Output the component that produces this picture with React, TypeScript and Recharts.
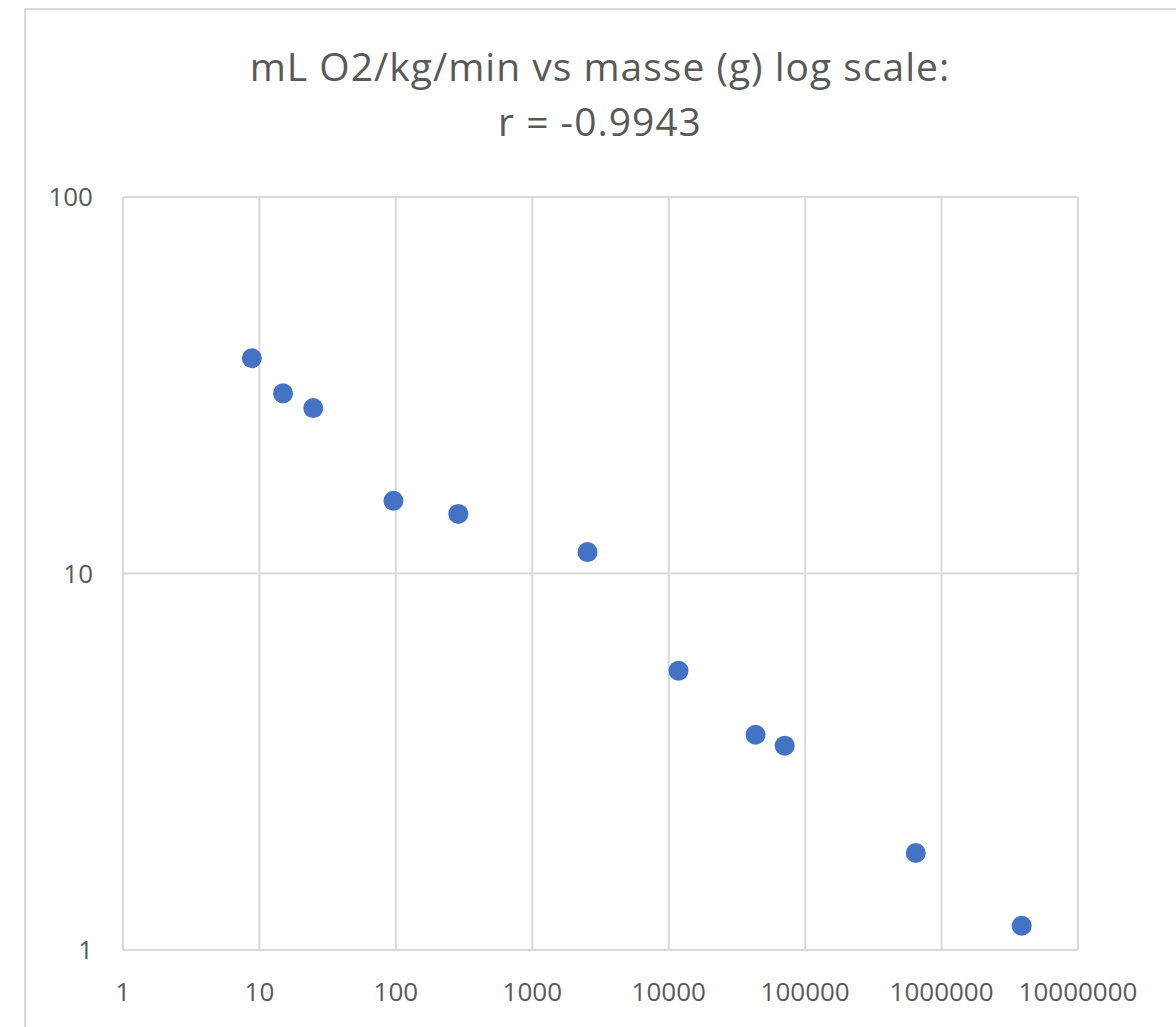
import React from 'react';
import { ScatterChart, Scatter, XAxis, YAxis, CartesianGrid } from 'recharts';

// masse (g) vs mL O2/kg/min
const masse = [8.8, 14.9, 24.8, 96, 287, 2540, 11800, 43300, 70800, 647000, 3870000];
const vo2 = [37.3, 30.1, 27.5, 15.6, 14.4, 11.4, 5.52, 3.73, 3.49, 1.81, 1.16];
const xTicks = [1, 10, 100, 1000, 10000, 100000, 1000000, 10000000];
const yTicks = [1, 10, 100];

const points = masse.map((m, i) => ({ masse: m, vo2: vo2[i] }));

const font = '"Open Sans", sans-serif';
const grey = '#595959';
const gridColor = '#d9d9d9';

const Dot = (props: any) => <circle cx={props.cx} cy={props.cy} r={10} fill="#4472C4" />;

export default function App() {
  return (
    <div style={{ position: 'absolute', left: 0, top: 0, width: 1176, height: 1027, overflow: 'hidden', background: '#fff' }}>
      <div style={{ position: 'absolute', left: 24, top: 8, width: 1200, height: 1100, border: `2px solid ${gridColor}`, boxSizing: 'border-box' }} />
      <div style={{ position: 'absolute', left: 24, width: 1152, top: 38, textAlign: 'center', fontFamily: font, fontSize: 39, letterSpacing: 1, color: grey, lineHeight: '55px' }}>
        <div>mL O2/kg/min vs masse (g) log scale:</div>
        <div>r = -0.9943</div>
      </div>
      <div style={{ position: 'absolute', left: 0, top: 0 }}>
        <ScatterChart width={1176} height={1027} margin={{ top: 197, right: 98, bottom: 37, left: 23 }}>
          <CartesianGrid stroke={gridColor} strokeWidth={2} />
          <XAxis
            type="number"
            dataKey="masse"
            scale="log"
            domain={[1, 10000000]}
            ticks={xTicks}
            allowDataOverflow
            height={40}
            axisLine={{ stroke: gridColor, strokeWidth: 2 }}
            tickLine={false}
            tickSize={0}
            tickMargin={33}
            interval={0}
            tick={{ fill: grey, fontFamily: font, fontSize: 26 }}
          />
          <YAxis
            type="number"
            dataKey="vo2"
            scale="log"
            domain={[1, 100]}
            ticks={yTicks}
            allowDataOverflow
            width={100}
            axisLine={{ stroke: gridColor, strokeWidth: 2 }}
            tickLine={false}
            tickSize={0}
            tickMargin={30}
            interval={0}
            tick={{ fill: grey, fontFamily: font, fontSize: 26 }}
          />
          <Scatter data={points} shape={Dot} isAnimationActive={false} />
        </ScatterChart>
      </div>
    </div>
  );
}
